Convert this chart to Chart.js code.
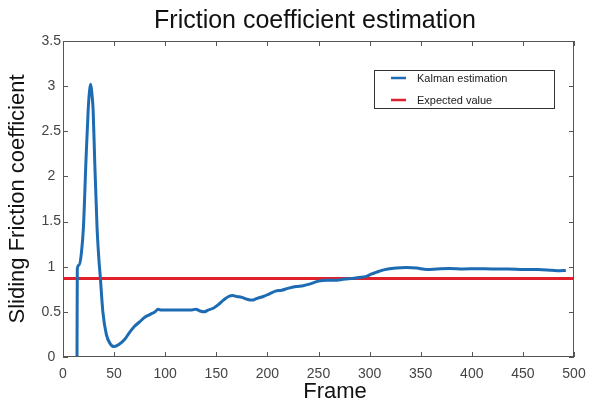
<!DOCTYPE html>
<html>
<head>
<meta charset="utf-8">
<script src="https://cdn.jsdelivr.net/npm/chart.js@4.4.0/dist/chart.umd.min.js"></script>
<style>
  html, body { margin: 0; padding: 0; background: #fff; }
  #wrap { width: 595px; height: 401px; }
</style>
</head>
<body>
<div id="wrap"><canvas id="frictionChart" width="595" height="401"></canvas></div>
<script>
// values
const frames = [13.7, 14, 16, 18, 20, 22.5, 24.6, 26, 27, 28, 29.5, 31, 33.3, 35, 36.6, 39, 42.4, 46, 50, 55,
  60, 65, 70, 75, 80, 85, 90, 93, 96, 105, 115, 125, 130, 134, 138, 142, 147, 152, 157, 162,
  166, 170, 175, 180, 185, 190, 196, 202, 208, 214, 220, 228, 235, 242, 250, 258, 266, 274, 282, 290,
  296, 302, 307, 312, 318, 326, 336, 346, 356, 366, 378, 392, 405, 420, 435, 450, 465, 478, 486, 492];
const kalman = [0, 0.98, 1.02, 1.15, 1.44, 2.18, 2.73, 2.95, 3.02, 2.95, 2.73, 2.18, 1.44, 1.1, 0.87, 0.5, 0.25, 0.15, 0.115, 0.14,
  0.19, 0.27, 0.34, 0.39, 0.44, 0.47, 0.5, 0.53, 0.52, 0.52, 0.52, 0.52, 0.53, 0.51, 0.5, 0.52, 0.54, 0.58, 0.63, 0.67,
  0.68, 0.67, 0.66, 0.64, 0.63, 0.65, 0.67, 0.7, 0.73, 0.74, 0.76, 0.78, 0.79, 0.81, 0.84, 0.85, 0.85, 0.86, 0.87, 0.88,
  0.89, 0.92, 0.94, 0.96, 0.975, 0.985, 0.99, 0.985, 0.97, 0.975, 0.98, 0.975, 0.978, 0.975, 0.975, 0.97, 0.968, 0.96, 0.955, 0.958];
const expectedFrames = [0, 500];
const expected = [0.87, 0.87];

const xTicks = [0, 50, 100, 150, 200, 250, 300, 350, 400, 450, 500];
const yTicks = [0, 0.5, 1, 1.5, 2, 2.5, 3, 3.5];

const BLUE = '#1d6cb3';
const RED = '#e0212b';
const AXIS = '#555';
const FONT = 'Liberation Sans, Arial, Helvetica, sans-serif';

function toPoints(xs, ys) {
  return xs.map((x, i) => ({ x: x, y: ys[i] }));
}

// box round the plot with inward ticks on all four sides
const boxTicks = {
  id: 'boxTicks',
  afterDatasetsDraw(chart) {
    const { ctx, chartArea: a, scales } = chart;
    ctx.save();
    ctx.strokeStyle = AXIS;
    ctx.lineWidth = 1;
    ctx.strokeRect(a.left + 0.5, a.top + 0.5, a.right - a.left - 1, a.bottom - a.top - 1);
    ctx.beginPath();
    const len = 5;
    xTicks.forEach(v => {
      const px = Math.round(scales.x.getPixelForValue(v)) + 0.5;
      ctx.moveTo(px, a.bottom); ctx.lineTo(px, a.bottom - len);
      ctx.moveTo(px, a.top); ctx.lineTo(px, a.top + len);
    });
    yTicks.forEach(v => {
      const py = Math.round(scales.y.getPixelForValue(v)) + 0.5;
      ctx.moveTo(a.left, py); ctx.lineTo(a.left + len, py);
      ctx.moveTo(a.right, py); ctx.lineTo(a.right - len, py);
    });
    ctx.stroke();
    ctx.restore();
  }
};

// legend box inside the plot, top right, plus title texts
const innerLegend = {
  id: 'innerLegend',
  afterDraw(chart) {
    const ctx = chart.ctx;
    const x0 = 374, y0 = 70, w = 180, h = 38;
    ctx.save();
    ctx.fillStyle = '#fff';
    ctx.fillRect(x0, y0, w, h);
    ctx.strokeStyle = '#333';
    ctx.lineWidth = 1;
    ctx.strokeRect(x0 + 0.5, y0 + 0.5, w, h);
    ctx.font = '11px ' + FONT;
    ctx.textBaseline = 'middle';
    chart.data.datasets.forEach((ds, i) => {
      const y = y0 + 8 + i * 22;
      ctx.strokeStyle = ds.borderColor;
      ctx.lineWidth = 2.5;
      ctx.beginPath();
      ctx.moveTo(391, y); ctx.lineTo(406, y);
      ctx.stroke();
      ctx.fillStyle = '#222';
      ctx.fillText(ds.label, 417, y + 1);
    });
    ctx.textAlign = 'center';
    ctx.textBaseline = 'alphabetic';
    ctx.fillStyle = '#111';
    ctx.font = '25px ' + FONT;
    ctx.fillText('Friction coefficient estimation', 315, 28);
    ctx.font = '22px ' + FONT;
    ctx.fillText('Frame', 335, 398);
    ctx.restore();
  }
};

const chart = new Chart(document.getElementById('frictionChart').getContext('2d'), {
  type: 'line',
  data: {
    datasets: [{
      label: 'Kalman estimation',
      data: toPoints(frames, kalman),
      borderColor: BLUE,
      borderWidth: 3,
      pointRadius: 0,
      cubicInterpolationMode: 'monotone',
      fill: false,
      order: 1
    }, {
      label: 'Expected value',
      data: toPoints(expectedFrames, expected),
      borderColor: RED,
      borderWidth: 3,
      pointRadius: 0,
      fill: false,
      order: 2
    }]
  },
  options: {
    responsive: false,
    animation: false,
    layout: { padding: { top: 41, right: 21, bottom: 0, left: 0 } },
    plugins: {
      legend: { display: false },
      tooltip: { enabled: false },
      title: { display: false }
    },
    scales: {
      x: {
        type: 'linear',
        min: 0,
        max: 500,
        afterFit: s => { s.height = 44; },
        afterBuildTicks: s => { s.ticks = xTicks.map(v => ({ value: v })); },
        grid: { display: false, drawTicks: false },
        border: { display: false },
        ticks: {
          color: '#444',
          font: { family: FONT, size: 14 },
          padding: 9,
          maxRotation: 0,
          autoSkip: false
        }
      },
      y: {
        min: 0,
        max: 3.5,
        afterFit: s => { s.width = 63; },
        afterBuildTicks: s => { s.ticks = yTicks.map(v => ({ value: v })); },
        grid: { display: false, drawTicks: false },
        border: { display: false },
        ticks: {
          color: '#444',
          font: { family: FONT, size: 14 },
          padding: 2,
          crossAlign: 'center',
          callback: v => String(v)
        },
        title: {
          display: true,
          text: 'Sliding Friction coefficient',
          color: '#111',
          font: { family: FONT, size: 22 },
          padding: { top: 5, bottom: 0 }
        }
      }
    }
  },
  plugins: [boxTicks, innerLegend]
});
</script>
</body>
</html>
